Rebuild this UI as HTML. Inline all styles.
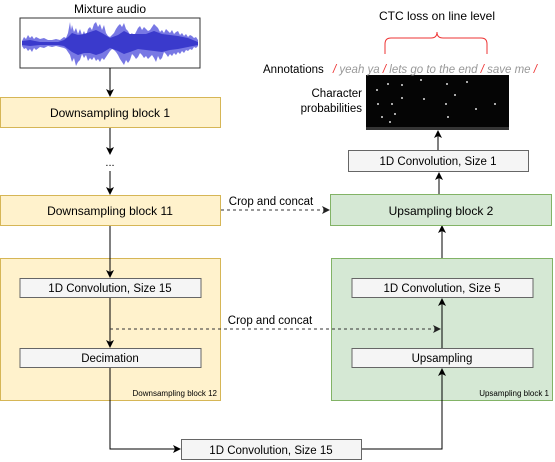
<!DOCTYPE html>
<html><head><meta charset="utf-8"><style>
html,body{margin:0;padding:0;background:#fff;}
svg{display:block;font-family:"Liberation Sans",Arial,sans-serif;}
</style></head><body>
<svg width="555" height="462" viewBox="0 0 555 462" xmlns="http://www.w3.org/2000/svg">
<defs>
<marker id="ar" markerWidth="8" markerHeight="8" refX="7" refY="4" orient="auto" markerUnits="userSpaceOnUse"><path d="M0,0 L8,4 L0,8 L2,4 z" fill="#000"/></marker>
<marker id="ar2" markerWidth="8" markerHeight="8" refX="7" refY="4" orient="auto" markerUnits="userSpaceOnUse"><path d="M0,0 L8,4 L0,8 L2,4 z" fill="#222"/></marker>
</defs>
<!-- Mixture audio -->
<text x="110" y="13" font-size="12" text-anchor="middle">Mixture audio</text>
<rect x="20" y="18" width="180" height="50" fill="#fff" stroke="#333" stroke-width="1"/>
<polygon fill="#7878e4" points="22,41 24,37 26,39 28,35 30,38 32,36 34,39 36,37 40,39 44,38 48,40 52,40 56,39 60,40 64,37 66,38 68,33 70,22 71,30 72,25 74,32 76,28 78,34 80,29 82,35 84,31 86,36 88,29 90,27 92,30 94,24 96,22 98,27 100,24 102,30 104,25 106,33 108,36 110,37 112,35 114,33 116,29 118,26 120,24 122,27 124,23 126,29 128,31 130,35 132,33 134,36 136,32 138,28 140,26 142,30 144,27 146,29 148,31 150,30 152,27 154,24 156,26 158,28 160,32 162,30 164,33 166,29 168,31 170,33 172,30 174,34 176,32 178,31 180,35 182,33 184,36 186,34 188,37 190,35 192,36 194,38 196,37 198,40
198,46 196,48 194,47 192,50 190,49 188,51 186,50 184,53 182,51 180,54 178,52 176,55 174,53 172,56 170,54 168,57 166,54 164,52 162,58 160,60 158,56 156,62 154,58 152,55 150,57 148,59 146,56 144,58 142,55 140,53 138,57 136,59 134,56 132,54 130,60 128,63 126,60 124,65 122,62 120,59 118,55 116,52 114,50 112,49 110,51 108,54 106,57 104,60 102,58 100,62 98,59 96,61 94,57 92,60 90,58 88,61 86,55 84,58 82,54 80,60 78,62 76,66 74,58 72,62 70,55 68,52 66,49 64,48 60,47 56,46 52,47 48,46 44,48 40,47 36,50 34,48 32,52 30,49 28,51 26,48 24,49 22,46"/>
<polygon fill="#3a3acc" points="22,41 30,40 40,42 50,42 58,42 64,40 68,37 72,33 78,35 84,34 90,32 96,30 102,33 110,38 118,35 124,31 130,34 138,34 146,34 154,31 162,34 170,35 178,36 188,38 198,42 198,45 188,47 178,49 170,50 162,52 154,51 146,50 138,49 130,52 124,54 118,51 110,48 102,53 96,55 90,53 84,53 78,55 72,52 68,49 64,46 58,45 50,45 40,45 30,46 22,45"/>
<line x1="110" y1="68" x2="110" y2="96" stroke="#000" marker-end="url(#ar)"/>
<!-- DS1 -->
<rect x="0.5" y="97.5" width="220" height="30" fill="#fff2cc" stroke="#d6b656"/>
<text x="110" y="117" font-size="12" text-anchor="middle">Downsampling block 1</text>
<line x1="110" y1="128" x2="110" y2="154" stroke="#000" marker-end="url(#ar)"/>
<text x="110" y="166" font-size="11" text-anchor="middle">...</text>
<line x1="110" y1="171" x2="110" y2="194" stroke="#000" marker-end="url(#ar)"/>
<!-- DS11 -->
<rect x="0.5" y="195.5" width="220" height="30" fill="#fff2cc" stroke="#d6b656"/>
<text x="110" y="215" font-size="12" text-anchor="middle">Downsampling block 11</text>
<line x1="221" y1="210" x2="329" y2="210" stroke="#333" stroke-dasharray="3,3" marker-end="url(#ar2)"/>
<text x="271" y="205" font-size="11.5" text-anchor="middle">Crop and concat</text>
<line x1="110" y1="226" x2="110" y2="258" stroke="#000"/>
<!-- DS12 container -->
<rect x="0.5" y="258.5" width="220" height="142" fill="#fff2cc" stroke="#d6b656"/>
<text x="217" y="396" font-size="8" text-anchor="end">Downsampling block 12</text>
<line x1="110" y1="258" x2="110" y2="277" stroke="#000" marker-end="url(#ar)"/>
<rect x="20" y="278.5" width="181" height="19" fill="#f5f5f5" stroke="#666"/>
<text x="110" y="292" font-size="11.5" text-anchor="middle">1D Convolution, Size 15</text>
<line x1="110" y1="298" x2="110" y2="347" stroke="#000" marker-end="url(#ar)"/>
<rect x="20" y="348.5" width="181" height="19" fill="#f5f5f5" stroke="#666"/>
<text x="110" y="362" font-size="11.5" text-anchor="middle">Decimation</text>
<!-- Green container -->
<rect x="331.5" y="258.5" width="221" height="142" fill="#d5e8d4" stroke="#82b366"/>
<text x="549" y="396" font-size="8" text-anchor="end">Upsampling block 1</text>
<rect x="352" y="278.5" width="181" height="19" fill="#f5f5f5" stroke="#666"/>
<text x="442" y="292" font-size="11.5" text-anchor="middle">1D Convolution, Size 5</text>
<rect x="352" y="348.5" width="181" height="19" fill="#f5f5f5" stroke="#666"/>
<text x="442" y="362" font-size="11.5" text-anchor="middle">Upsampling</text>
<line x1="442" y1="348" x2="442" y2="299" stroke="#000" marker-end="url(#ar)"/>
<line x1="110" y1="329" x2="440" y2="329" stroke="#333" stroke-dasharray="3,3" marker-end="url(#ar2)"/>
<text x="270" y="324" font-size="11.5" text-anchor="middle">Crop and concat</text>
<!-- bottom -->
<polyline points="110,368 110,449 180,449" fill="none" stroke="#000" marker-end="url(#ar)"/>
<rect x="181.5" y="439.5" width="180" height="20" fill="#f5f5f5" stroke="#666"/>
<text x="271" y="454" font-size="11.5" text-anchor="middle">1D Convolution, Size 15</text>
<polyline points="362,449 442,449 442,369" fill="none" stroke="#000" marker-end="url(#ar)"/>
<line x1="442" y1="258" x2="442" y2="226" stroke="#000" marker-end="url(#ar)"/>
<!-- Up block 2 -->
<rect x="330.5" y="194.5" width="221" height="31" fill="#d5e8d4" stroke="#82b366"/>
<text x="441" y="215" font-size="12" text-anchor="middle">Upsampling block 2</text>
<line x1="439" y1="194" x2="439" y2="173" stroke="#000" marker-end="url(#ar)"/>
<rect x="348.5" y="150.5" width="180" height="21" fill="#f5f5f5" stroke="#666"/>
<text x="438" y="165" font-size="11.5" text-anchor="middle">1D Convolution, Size 1</text>
<line x1="438" y1="150" x2="438" y2="131" stroke="#000" marker-end="url(#ar)"/>
<!-- prob image -->
<rect x="366" y="75" width="143" height="55" fill="#050505"/>
<g fill="#ddd">
<circle cx="377" cy="90" r="1"/><circle cx="388" cy="84" r="1"/><circle cx="402" cy="85" r="1"/><circle cx="421" cy="80" r="1"/><circle cx="447" cy="84" r="1"/><circle cx="467" cy="82" r="1"/><circle cx="378" cy="104" r="1"/><circle cx="392" cy="104" r="1"/><circle cx="402" cy="98" r="1"/><circle cx="424" cy="99" r="1"/><circle cx="446" cy="104" r="1"/><circle cx="455" cy="95" r="1"/><circle cx="476" cy="109" r="1"/><circle cx="382" cy="117" r="1"/><circle cx="395" cy="114" r="1"/><circle cx="390" cy="122" r="1"/><circle cx="448" cy="117" r="1"/><circle cx="495" cy="104" r="1"/>
</g>
<rect x="366" y="127" width="143" height="3" fill="#555" opacity="0.6"/>
<text x="362" y="97" font-size="11.5" text-anchor="end">Character</text>
<text x="362" y="112" font-size="11.5" text-anchor="end">probabilities</text>
<!-- annotations -->
<text x="263" y="73" font-size="11.5">Annotations</text>
<text x="333" y="73" font-size="11.5" font-style="italic" fill="#999"><tspan fill="#e33">/</tspan> yeah ya <tspan fill="#e33">/</tspan> lets go to the end <tspan fill="#e33">/</tspan> save me <tspan fill="#e33">/</tspan></text>
<text x="437" y="20" font-size="12" text-anchor="middle">CTC loss on line level</text>
<path d="M385,54 L385,44 Q385,38 391,38 L431,38 Q437,38 437,32 Q437,38 443,38 L481,38 Q487,38 487,44 L487,54" fill="none" stroke="#e33" stroke-width="1"/>
</svg>
</body></html>
